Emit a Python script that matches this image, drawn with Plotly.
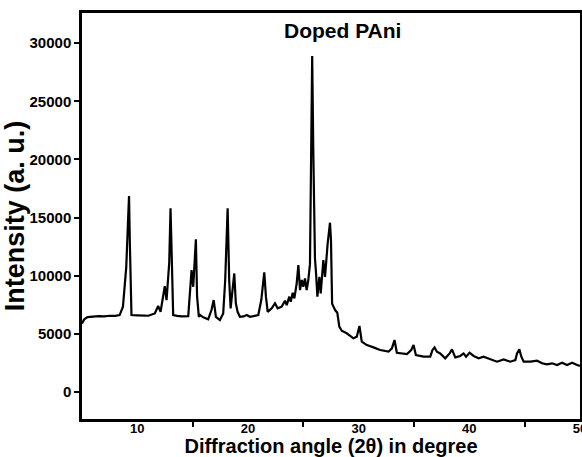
import plotly.graph_objects as go

two_theta = [5.0, 5.2, 5.5, 6.0, 6.5, 7.0, 7.5, 8.0, 8.4, 8.7, 9.0, 9.15, 9.25, 9.32, 9.38, 9.47,
             10.0, 10.5, 11.0, 11.58, 11.88, 12.1, 12.33, 12.48, 12.64, 12.73, 12.88, 13.0, 13.12, 13.24,
             13.6, 14.0, 14.6, 14.75, 14.9, 15.05, 15.2, 15.29, 15.4, 15.56, 15.67, 16.0, 16.4, 16.7,
             16.9, 17.1, 17.46, 17.76, 17.94, 18.05, 18.16, 18.3, 18.43, 18.57, 18.76, 18.9, 19.06,
             19.27, 19.6, 19.88, 20.18, 20.6, 20.93, 21.2, 21.47, 21.62, 21.78, 22.14, 22.44, 22.68,
             23.04, 23.34, 23.5, 23.73, 23.86, 24.04, 24.19, 24.4, 24.55, 24.7, 24.86, 25.0, 25.15,
             25.3, 25.45, 25.6, 25.68, 25.8, 25.9, 25.97, 26.05, 26.15, 26.27, 26.45, 26.57, 26.81,
             26.96, 27.2, 27.41, 27.5, 27.6, 27.87, 28.07, 28.25, 28.47, 28.92, 29.52, 29.83, 30.07,
             30.28, 30.74, 31.34, 31.94, 32.7, 33.0, 33.24, 33.45, 34.36, 34.75, 34.96, 35.17, 35.86,
             36.47, 36.67, 36.86, 37.07, 37.37, 37.82, 38.22, 38.43, 38.73, 39.18, 39.48, 39.7, 40.02,
             40.39, 40.84, 41.29, 41.9, 42.5, 43.1, 43.7, 44.16, 44.31, 44.52, 44.7, 44.91, 45.52,
             46.12, 46.57, 47.02, 47.48, 47.93, 48.38, 48.83, 49.29, 49.74, 50.0]

intensity = [5900, 6250, 6450, 6500, 6520, 6500, 6560, 6550, 6620, 7340, 10770, 14500, 16850, 13000, 8770, 6620,
             6600, 6550, 6560, 6760, 7400, 6900, 8200, 9100, 7900, 9050, 11100, 15800, 10800, 6620,
             6550, 6500, 6530, 8490, 10490, 9050, 11630, 13130, 8200, 6470, 6620, 6400, 6250, 7050,
             7910, 6470, 6190, 6760, 9630, 13000, 15800, 9630, 7200, 8490, 10200, 7630, 6900,
             6470, 6500, 6620, 6470, 6550, 6620, 7910, 10290, 8200, 6900, 7200, 7630, 7200,
             7340, 7850, 7480, 8200, 7760, 8540, 8050, 9350, 10920, 8770, 9630, 9050, 9770,
             8770, 9630, 11000, 17500, 28900, 20800, 14000, 11500, 10200, 8200, 9910, 8490, 11350,
             9910, 12790, 14560, 13000, 7600, 7050, 6820, 5620, 5270, 5050, 4620, 4760, 5680,
             4330, 4040, 3840, 3610, 3470, 3760, 4470, 3380, 3270, 3610, 4040, 3180, 3040,
             3040, 3610, 3840, 3470, 3320, 2900, 3320, 3670, 2980, 3100, 3320, 3040, 3380,
             3100, 2900, 3040, 2810, 2610, 2810, 2610, 2750, 3320, 3670, 3040, 2610, 2610,
             2690, 2470, 2380, 2470, 2320, 2520, 2320, 2520, 2320, 2250]

x_label_vals = [10, 20, 30, 40, 50]
x_tick_marks = [15, 25, 35, 45]
y_tick_vals = [0, 5000, 10000, 15000, 20000, 25000, 30000]

FONT = "Liberation Sans, Arial, sans-serif"

fig = go.Figure()
fig.add_trace(go.Scatter(x=two_theta, y=intensity, mode="lines",
                         line=dict(color="black", width=2.2), showlegend=False))
# empty trace so that the label axis (x2) is drawn
fig.add_trace(go.Scatter(x=[], y=[], xaxis="x2", yaxis="y", mode="lines",
                         showlegend=False, hoverinfo="skip"))

fig.update_layout(
    width=582, height=457,
    margin=dict(l=82, r=2, t=13, b=38),
    paper_bgcolor="white", plot_bgcolor="white",
    font=dict(family=FONT, color="black"),
    xaxis=dict(
        range=[5, 50], showgrid=False, zeroline=False,
        showline=True, linecolor="black", linewidth=2.5, mirror=True,
        tickmode="array", tickvals=x_tick_marks, ticktext=["" for _ in x_tick_marks],
        ticks="outside", ticklen=5, tickwidth=2, tickcolor="black",
        automargin=False,
    ),
    xaxis2=dict(
        range=[5, 50], overlaying="x", anchor="y", side="bottom",
        showgrid=False, zeroline=False, showline=False,
        tickmode="array", tickvals=x_label_vals, ticktext=[str(v) for v in x_label_vals],
        ticks="", ticklabeloverflow="allow",
        tickfont=dict(size=13, family=FONT, weight="bold"),
        title=dict(text="Diffraction angle (2θ) in degree",
                   font=dict(size=20, family=FONT, weight="bold"), standoff=3),
        automargin=False,
    ),
    yaxis=dict(
        range=[-2320, 32600], showgrid=False, zeroline=False,
        showline=True, linecolor="black", linewidth=2.5, mirror=True,
        tickmode="array", tickvals=y_tick_vals, ticktext=[str(v) for v in y_tick_vals],
        ticks="outside", ticklen=5, tickwidth=2, tickcolor="black",
        tickfont=dict(size=15, family=FONT, weight="bold"),
        title=dict(text="Intensity (a. u.)",
                   font=dict(size=27, family=FONT, weight="bold"), standoff=2),
        automargin=False,
    ),
    annotations=[dict(text="Doped PAni", x=0.524, y=1 - (30 - 13) / (419 - 13),
                      xref="paper", yref="paper",
                      yanchor="middle", xanchor="center", showarrow=False,
                      font=dict(size=21, family=FONT, weight="bold"))],
)

fig.write_html("out.html", config={"displayModeBar": False},
               post_script="document.body.style.margin='0';document.body.style.overflow='hidden';")
